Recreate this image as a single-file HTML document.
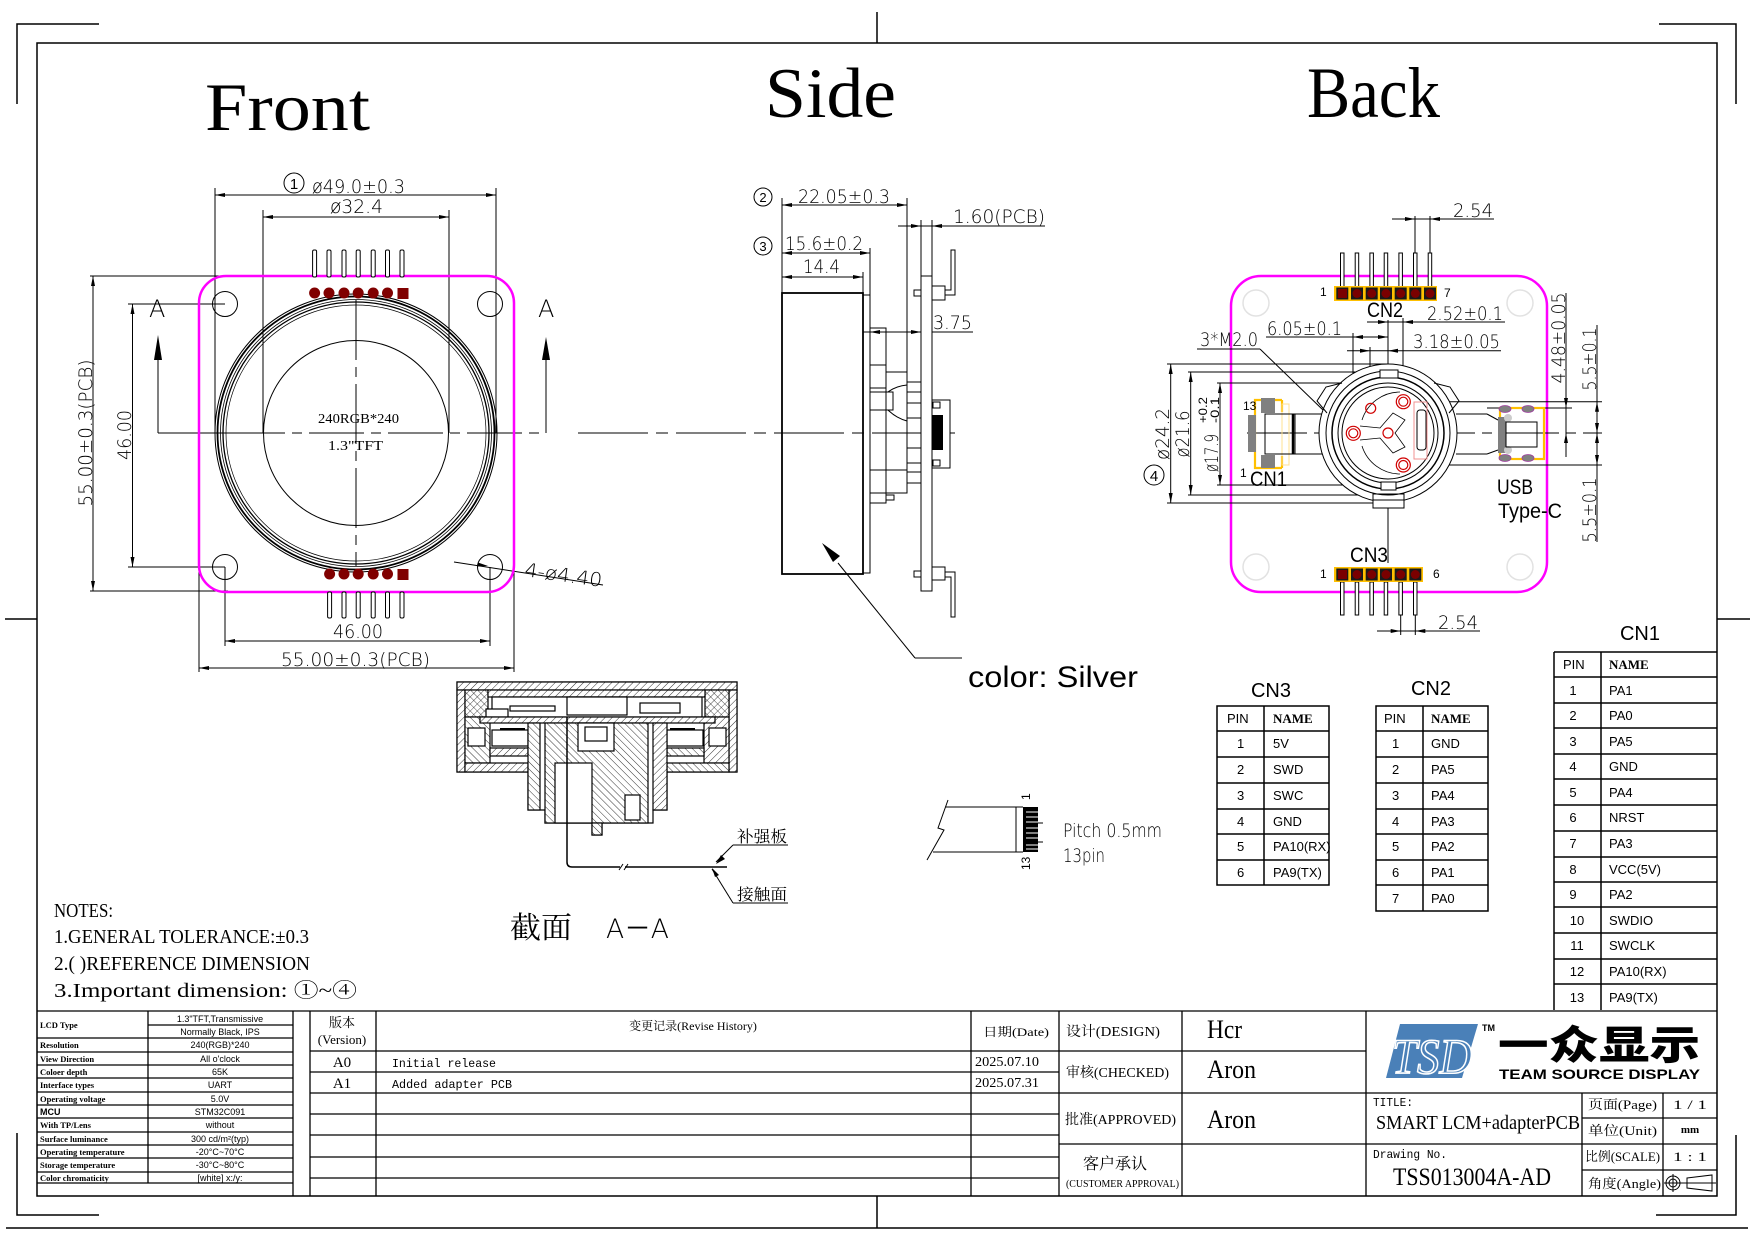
<!DOCTYPE html>
<html><head><meta charset="utf-8"><style>
html,body{margin:0;padding:0;background:#fff;}
svg{display:block}
text{font-family:"Liberation Sans","Noto Sans CJK SC",sans-serif;fill:#000}
.s{font-family:"Liberation Serif","Noto Serif CJK SC",serif}
.m{font-family:"Liberation Mono","Noto Serif CJK SC",monospace}
.d{font-size:19px;font-family:"DejaVu Sans","Liberation Sans",sans-serif;font-weight:200}
.t{font-size:13px}
.sp{font-family:"Liberation Serif",serif;font-size:8.5px;font-weight:bold}
.sv{font-size:9px}
</style></head><body>
<svg width="1754" height="1240" viewBox="0 0 1754 1240" xmlns="http://www.w3.org/2000/svg">
<defs>
<pattern id="hp" patternUnits="userSpaceOnUse" width="5" height="5" patternTransform="rotate(45)"><rect width="5" height="5" fill="#fff"/><line x1="0" y1="0" x2="0" y2="5" stroke="#000" stroke-width="0.8"/></pattern>
<pattern id="hn" patternUnits="userSpaceOnUse" width="5" height="5" patternTransform="rotate(-45)"><rect width="5" height="5" fill="#fff"/><line x1="0" y1="0" x2="0" y2="5" stroke="#000" stroke-width="0.8"/></pattern>
<pattern id="hx" patternUnits="userSpaceOnUse" width="5" height="5" patternTransform="rotate(45)"><rect width="5" height="5" fill="#fff"/><line x1="0" y1="0" x2="0" y2="5" stroke="#000" stroke-width="0.7"/><line x1="0" y1="0" x2="5" y2="0" stroke="#000" stroke-width="0.7"/></pattern>
</defs>
<rect width="1754" height="1240" fill="#fff"/>

<!-- FRAME -->
<g fill="none" stroke="#000" stroke-width="1.5">
<rect x="37" y="43" width="1680" height="1153"/>
<polyline points="17,104 17,24 99,24"/>
<polyline points="17,1133 17,1215 99,1215"/>
<polyline points="1659,24 1736,24 1736,104"/>
<polyline points="1656,1215 1736,1215 1736,1135"/>
<line x1="877" y1="12" x2="877" y2="43"/>
<line x1="877" y1="1196" x2="877" y2="1228"/>
<line x1="5" y1="619" x2="37" y2="619"/>
<line x1="1717" y1="619" x2="1750" y2="619"/>
<line x1="6" y1="1228" x2="1748" y2="1228"/>
</g>

<!-- TITLES -->
<text class="s" x="205" y="130" font-size="68" textLength="165" lengthAdjust="spacingAndGlyphs">Front</text>
<text class="s" x="765" y="117" font-size="71" textLength="131" lengthAdjust="spacingAndGlyphs">Side</text>
<text class="s" x="1307" y="117" font-size="72" textLength="133" lengthAdjust="spacingAndGlyphs">Back</text>

<!-- ================= FRONT ================= -->
<g fill="none" stroke="#000" stroke-width="1">
<line x1="215" y1="188" x2="215" y2="433"/>
<line x1="496" y1="188" x2="496" y2="433"/>
<line x1="215" y1="195" x2="496" y2="195"/>
<line x1="263" y1="210" x2="263" y2="433"/>
<line x1="449" y1="210" x2="449" y2="433"/>
<line x1="263" y1="217" x2="449" y2="217"/>
<line x1="90" y1="276" x2="228" y2="276"/>
<line x1="90" y1="591" x2="228" y2="591"/>
<line x1="93" y1="276" x2="93" y2="591"/>
<line x1="128" y1="304" x2="225" y2="304"/>
<line x1="128" y1="567" x2="225" y2="567"/>
<line x1="132.5" y1="304" x2="132.5" y2="567"/>
<line x1="225" y1="567" x2="225" y2="646"/>
<line x1="490" y1="567" x2="490" y2="646"/>
<line x1="225" y1="641" x2="490" y2="641"/>
<line x1="199" y1="545" x2="199" y2="672"/>
<line x1="514" y1="545" x2="514" y2="672"/>
<line x1="199" y1="668" x2="514" y2="668"/>
<line x1="158" y1="355" x2="158" y2="433"/>
<line x1="546" y1="355" x2="546" y2="433"/>
<line x1="158" y1="433" x2="230" y2="433"/>
<line x1="230" y1="433" x2="546" y2="433" stroke-dasharray="55 7 10 7"/>
<line x1="578" y1="433" x2="955" y2="433" stroke-dasharray="70 8 12 8"/>
<line x1="356" y1="300" x2="356" y2="566" stroke-dasharray="60 7 10 7"/>
<ellipse cx="356" cy="433" rx="141" ry="139" stroke-width="1"/>
<ellipse cx="356" cy="433" rx="138.5" ry="136.5" stroke-width="1.8"/>
<ellipse cx="356" cy="433" rx="135.5" ry="133.5" stroke-width="0.8"/>
<ellipse cx="356" cy="433" rx="133" ry="131" stroke-width="1.3"/>
<ellipse cx="356" cy="433" rx="130" ry="128" stroke-width="0.7"/>
<circle cx="356" cy="433" r="92.5"/>
<circle cx="225" cy="304" r="12.5"/>
<circle cx="490" cy="304" r="12.5"/>
<circle cx="225" cy="567" r="12.5"/>
<circle cx="490" cy="567" r="12.5"/>
<line x1="454" y1="562" x2="603" y2="585"/>
</g>
<rect x="199" y="276" width="315" height="316" rx="27" fill="none" stroke="#ff00ff" stroke-width="2.5"/>
<g fill="#fff" stroke="#000" stroke-width="1">
<rect x="312.6" y="250" width="4" height="27" rx="1.5"/><rect x="327" y="250" width="4" height="27" rx="1.5"/><rect x="342" y="250" width="4" height="27" rx="1.5"/><rect x="356.2" y="250" width="4" height="27" rx="1.5"/><rect x="371.2" y="250" width="4" height="27" rx="1.5"/><rect x="385.5" y="250" width="4" height="27" rx="1.5"/><rect x="400" y="250" width="4" height="27" rx="1.5"/>
<rect x="327.6" y="592" width="4" height="26" rx="1.5"/><rect x="342" y="592" width="4" height="26" rx="1.5"/><rect x="356.2" y="592" width="4" height="26" rx="1.5"/><rect x="371.2" y="592" width="4" height="26" rx="1.5"/><rect x="385.5" y="592" width="4" height="26" rx="1.5"/><rect x="400" y="592" width="4" height="26" rx="1.5"/>
</g>
<g fill="#800000">
<circle cx="314.6" cy="293" r="5.5"/><circle cx="329" cy="293" r="5.5"/><circle cx="344" cy="293" r="5.5"/><circle cx="358.2" cy="293" r="5.5"/><circle cx="373.2" cy="293" r="5.5"/><circle cx="387.5" cy="293" r="5.5"/><rect x="397.5" y="288" width="11" height="11"/>
<circle cx="329.6" cy="574" r="5.5"/><circle cx="344" cy="574" r="5.5"/><circle cx="358.2" cy="574" r="5.5"/><circle cx="373.2" cy="574" r="5.5"/><circle cx="387.5" cy="574" r="5.5"/><rect x="397.5" y="569" width="11" height="11"/>
</g>
<g fill="#000">
<polygon points="215,195 225,193 225,197"/><polygon points="496,195 486,193 486,197"/>
<polygon points="263,217 273,215 273,219"/><polygon points="449,217 439,215 439,219"/>
<polygon points="93,276 91,286 95,286"/><polygon points="93,591 91,581 95,581"/>
<polygon points="132.5,304 130.5,314 134.5,314"/><polygon points="132.5,567 130.5,557 134.5,557"/>
<polygon points="225,641 235,639 235,643"/><polygon points="490,641 480,639 480,643"/>
<polygon points="199,668 209,666 209,670"/><polygon points="514,668 504,666 504,670"/>
<polygon points="488,566 478,562.5 477.5,566.5"/>
<polygon points="158,335 154,360 162,360"/><polygon points="546,337 542,360 550,360"/>
</g>
<circle cx="294" cy="183" r="10" fill="none" stroke="#000" stroke-width="1"/>
<text x="294" y="189" font-size="15" text-anchor="middle">1</text>
<text class="d" x="312" y="193" textLength="93" lengthAdjust="spacingAndGlyphs">ø49.0±0.3</text>
<text class="d" x="330" y="213" textLength="53" lengthAdjust="spacingAndGlyphs">ø32.4</text>
<text class="d" transform="translate(92,433) rotate(-90)" text-anchor="middle" textLength="147" lengthAdjust="spacingAndGlyphs">55.00±0.3(PCB)</text>
<text class="d" transform="translate(131,435) rotate(-90)" text-anchor="middle" textLength="50" lengthAdjust="spacingAndGlyphs">46.00</text>
<text class="d" x="333" y="638" textLength="50" lengthAdjust="spacingAndGlyphs">46.00</text>
<text class="d" x="281" y="666" textLength="149" lengthAdjust="spacingAndGlyphs">55.00±0.3(PCB)</text>
<text class="d" transform="translate(524,576) rotate(8)" textLength="78" lengthAdjust="spacingAndGlyphs">4-ø4.40</text>
<text x="149" y="317" font-size="24" style="font-weight:200;font-family:'DejaVu Sans',sans-serif">A</text>
<text x="538" y="317" font-size="24" style="font-weight:200;font-family:'DejaVu Sans',sans-serif">A</text>
<text class="s" x="318" y="423" font-size="14" textLength="81" lengthAdjust="spacingAndGlyphs">240RGB*240</text>
<text class="s" x="328" y="450" font-size="14" textLength="55" lengthAdjust="spacingAndGlyphs">1.3"TFT</text>

<!-- ================= SIDE ================= -->
<g fill="none" stroke="#000" stroke-width="1">
<line x1="782" y1="198" x2="782" y2="293"/>
<line x1="907" y1="198" x2="907" y2="372"/>
<line x1="782" y1="205" x2="907" y2="205"/>
<line x1="870" y1="248" x2="870" y2="295"/>
<line x1="782" y1="253" x2="870" y2="253"/>
<line x1="863" y1="272" x2="863" y2="293"/>
<line x1="782" y1="277" x2="863" y2="277"/>
<line x1="921" y1="220" x2="921" y2="276"/>
<line x1="932" y1="220" x2="932" y2="276"/>
<line x1="898" y1="226" x2="1045" y2="226"/>
<line x1="863" y1="332" x2="973" y2="332"/>
<rect x="782" y="293" width="81" height="281" stroke-width="1.8"/>
<rect x="863" y="295" width="7" height="278"/>
<rect x="870" y="328" width="16" height="37"/>
<rect x="870" y="365" width="16" height="23"/>
<rect x="870" y="392" width="23" height="18"/>
<rect x="870" y="410" width="16" height="60"/>
<rect x="886" y="372" width="21" height="98"/>
<rect x="886" y="470" width="21" height="23"/>
<rect x="870" y="493" width="16" height="10"/>
<rect x="886" y="495" width="8" height="5"/>
<path d="M888,392 Q896,386 907,385 M888,410 Q896,418 907,421"/>
<rect x="907" y="382" width="15" height="101"/>
<path d="M907,392H922M907,403H922M907,418H922M907,433H922M907,448H922M907,463H922M907,472H922"/>
<rect x="921" y="276" width="11" height="315" fill="#fff"/>
<rect x="932" y="400" width="18" height="68"/>
<rect x="933" y="402" width="7" height="6"/><rect x="933" y="460" width="7" height="6"/>
<rect x="932" y="286" width="13" height="14"/>
<rect x="914" y="290" width="7" height="6"/>
<path d="M945,290 H951 V250 H955 V295 H945"/>
<rect x="932" y="567" width="13" height="13"/>
<rect x="914" y="571" width="7" height="6"/>
<path d="M945,572 H955 V617 H951 V577 H945"/>
<line x1="838" y1="563" x2="915" y2="658"/>
<line x1="915" y1="658" x2="962" y2="658"/>
</g>
<rect x="932" y="415" width="11" height="35" fill="#000"/>
<g fill="#000">
<polygon points="782,205 792,203 792,207"/><polygon points="907,205 897,203 897,207"/>
<polygon points="782,253 792,251 792,255"/><polygon points="870,253 860,251 860,255"/>
<polygon points="782,277 792,275 792,279"/><polygon points="863,277 853,275 853,279"/>
<polygon points="921,226 911,224 911,228"/><polygon points="932,226 942,224 942,228"/>
<polygon points="870,332 880,330 880,334"/><polygon points="921,332 911,330 911,334"/>
<polygon points="822,543 840,556 833,562"/>
</g>
<circle cx="763" cy="197" r="9" fill="none" stroke="#000"/>
<text x="763" y="202" font-size="13" text-anchor="middle">2</text>
<circle cx="763" cy="246" r="9" fill="none" stroke="#000"/>
<text x="763" y="251" font-size="13" text-anchor="middle">3</text>
<text class="d" x="798" y="203" textLength="92" lengthAdjust="spacingAndGlyphs">22.05±0.3</text>
<text class="d" x="785" y="250" textLength="78" lengthAdjust="spacingAndGlyphs">15.6±0.2</text>
<text class="d" x="803" y="273" textLength="37" lengthAdjust="spacingAndGlyphs">14.4</text>
<text class="d" x="953" y="223" textLength="92" lengthAdjust="spacingAndGlyphs">1.60(PCB)</text>
<text class="d" x="933" y="329" textLength="39" lengthAdjust="spacingAndGlyphs">3.75</text>
<text x="968" y="687" font-size="30" textLength="170" lengthAdjust="spacingAndGlyphs">color: Silver</text>

<!-- ================= SECTION A-A ================= -->
<g stroke="#000" stroke-width="1.2">
<path fill="#fff" d="M457,682 H737 V772 H667 V810 H653 V823 H602 V835 H592 V823 H545 V810 H528 V772 H457 Z"/>
<rect fill="url(#hp)" x="457" y="682" width="280" height="8"/>
<rect fill="url(#hp)" x="457" y="690" width="8" height="82"/>
<rect fill="url(#hp)" x="729" y="690" width="8" height="82"/>
<rect fill="url(#hx)" x="465" y="690" width="23" height="27"/>
<rect fill="url(#hx)" x="705" y="690" width="24" height="27"/>
<rect fill="url(#hn)" x="465" y="717" width="25" height="46"/>
<rect fill="#fff" x="468" y="728" width="17" height="18"/>
<rect fill="url(#hp)" x="704" y="717" width="25" height="46"/>
<rect fill="#fff" x="709" y="728" width="17" height="18"/>
<rect fill="url(#hp)" x="465" y="763" width="63" height="9"/>
<rect fill="url(#hn)" x="667" y="763" width="62" height="9"/>
<rect fill="url(#hp)" x="488" y="690" width="217" height="7"/>
<rect fill="#fff" x="492" y="697" width="210" height="20"/>
<rect fill="#fff" x="567" y="697" width="60" height="18"/>
<rect fill="#fff" x="510" y="706" width="45" height="5"/>
<rect fill="#fff" x="640" y="703" width="40" height="10"/>
<rect fill="#fff" x="486" y="709" width="22" height="8"/>
<rect fill="url(#hp)" x="480" y="717" width="235" height="6"/>
<rect fill="#fff" x="492" y="730" width="36" height="16"/>
<rect fill="#fff" x="667" y="730" width="36" height="16"/>
<line x1="500" y1="729" x2="525" y2="729" stroke-width="2"/>
<line x1="670" y1="729" x2="695" y2="729" stroke-width="2"/>
<rect fill="url(#hp)" x="490" y="748" width="38" height="8"/>
<rect fill="url(#hn)" x="667" y="748" width="37" height="8"/>
<rect fill="url(#hn)" x="528" y="723" width="12" height="87"/>
<rect fill="url(#hp)" x="653" y="723" width="14" height="87"/>
<rect fill="url(#hn)" x="545" y="723" width="103" height="100"/>
<rect fill="#fff" x="555" y="763" width="37" height="60"/>
<rect fill="#fff" x="578" y="723" width="36" height="28"/>
<rect fill="#fff" x="585" y="727" width="22" height="14"/>
<rect fill="#fff" x="625" y="795" width="15" height="25"/>
<rect fill="url(#hn)" x="592" y="823" width="10" height="12"/>
</g>
<g fill="none" stroke="#000">
<path d="M567,717 V862 Q567,867 572,867 H620 M625,867 H727" stroke-width="1.5"/>
<path d="M619,870 L623,864 M624,870 L628,864" stroke-width="1"/>
<line x1="733" y1="845" x2="788" y2="845"/>
<line x1="733" y1="845" x2="716" y2="862"/>
<line x1="733" y1="903" x2="788" y2="903"/>
<line x1="733" y1="903" x2="712" y2="869"/>
</g>
<polygon points="716,864 721,855 725,859" fill="#000"/>
<polygon points="712,868 719,875 715,877" fill="#000"/>
<text class="s" x="737" y="842" font-size="16" textLength="50" lengthAdjust="spacingAndGlyphs">补强板</text>
<text class="s" x="737" y="900" font-size="16" textLength="50" lengthAdjust="spacingAndGlyphs">接触面</text>
<text class="s" x="510" y="938" font-size="30" textLength="62" lengthAdjust="spacingAndGlyphs">截面</text>
<text x="606" y="938" font-size="27" textLength="63" lengthAdjust="spacingAndGlyphs" style="font-weight:200;font-family:'DejaVu Sans',sans-serif">A－A</text>

<!-- NOTES -->
<text class="s" x="54" y="917" font-size="20" textLength="59" lengthAdjust="spacingAndGlyphs">NOTES:</text>
<text class="s" x="54" y="943" font-size="20" textLength="255" lengthAdjust="spacingAndGlyphs">1.GENERAL TOLERANCE:±0.3</text>
<text class="s" x="54" y="970" font-size="20" textLength="256" lengthAdjust="spacingAndGlyphs">2.(  )REFERENCE DIMENSION</text>
<text class="s" x="54" y="997" font-size="20" textLength="303" lengthAdjust="spacingAndGlyphs">3.Important dimension: ①~④</text>

<!-- FPC -->
<g fill="none" stroke="#000" stroke-width="1">
<path d="M948,800 L938,828 L944,830 L927,860"/>
<line x1="945" y1="807" x2="1023" y2="807"/>
<line x1="933" y1="852" x2="1023" y2="852"/>
<line x1="1016" y1="807" x2="1016" y2="852"/>
<line x1="1038" y1="823" x2="1043" y2="823"/>
<line x1="1038" y1="842" x2="1043" y2="842"/>
</g>
<rect x="1023" y="807" width="15" height="45" fill="#000"/>
<g stroke="#fff" stroke-width="1">
<path d="M1026,812H1038M1026,817H1038M1026,822H1038M1026,828H1038M1026,833H1038M1026,838H1038M1026,845H1038M1026,849H1038"/>
</g>
<text transform="translate(1030,800) rotate(-90)" font-size="12">1</text>
<text transform="translate(1030,870) rotate(-90)" font-size="12">13</text>
<text class="d" x="1063" y="837" font-size="18" textLength="99" lengthAdjust="spacingAndGlyphs">Pitch 0.5mm</text>
<text class="d" x="1063" y="862" font-size="18" textLength="42" lengthAdjust="spacingAndGlyphs">13pin</text>

<!-- ================= BACK ================= -->
<g fill="none" stroke="#e2e2e2" stroke-width="1.5">
<circle cx="1256" cy="303" r="13"/><circle cx="1520" cy="303" r="13"/>
<circle cx="1256" cy="567" r="13"/><circle cx="1520" cy="567" r="13"/>
</g>
<rect x="1231" y="276" width="316" height="316" rx="30" fill="none" stroke="#ff00ff" stroke-width="2.5"/>
<g fill="none" stroke="#000" stroke-width="1">
<line x1="1392" y1="219" x2="1494" y2="219"/>
<line x1="1415" y1="216" x2="1415" y2="253"/>
<line x1="1430" y1="216" x2="1430" y2="253"/>
<line x1="1377" y1="631" x2="1480" y2="631"/>
<line x1="1400.7" y1="615" x2="1400.7" y2="635"/>
<line x1="1415.3" y1="615" x2="1415.3" y2="635"/>
<line x1="1197" y1="349" x2="1260" y2="349"/>
<line x1="1260" y1="349" x2="1323" y2="410"/>
<line x1="1266" y1="337" x2="1388" y2="337"/>
<line x1="1367" y1="322" x2="1505" y2="322"/>
<line x1="1347" y1="350.7" x2="1501" y2="350.7"/>
<line x1="1353" y1="333" x2="1353" y2="433"/>
<line x1="1403" y1="318" x2="1403" y2="402"/>
<line x1="1370" y1="347" x2="1370" y2="408"/>
<line x1="1388" y1="320" x2="1388" y2="563" stroke-dasharray="130 8 12 8"/>
<line x1="1247" y1="433" x2="1602" y2="433" stroke-dasharray="60 7 10 7"/>
<line x1="1170.7" y1="364" x2="1170.7" y2="503"/>
<line x1="1167" y1="364" x2="1388" y2="364"/>
<line x1="1167" y1="503" x2="1388" y2="503"/>
<line x1="1190.7" y1="372" x2="1190.7" y2="495"/>
<line x1="1188" y1="372" x2="1400" y2="372"/>
<line x1="1188" y1="495" x2="1388" y2="495"/>
<line x1="1220" y1="383" x2="1220" y2="485"/>
<line x1="1217" y1="383" x2="1370" y2="383"/>
<line x1="1217" y1="485" x2="1388" y2="485"/>
<line x1="1566" y1="293" x2="1566" y2="457"/>
<line x1="1597" y1="325" x2="1597" y2="542"/>
<line x1="1403" y1="401.7" x2="1602" y2="401.7"/>
<line x1="1487" y1="408" x2="1572" y2="408"/>
<line x1="1403" y1="465" x2="1602" y2="465"/>
<line x1="1295" y1="414" x2="1322" y2="414"/>
<line x1="1295" y1="454" x2="1322" y2="454"/>
<line x1="1456" y1="414" x2="1487" y2="414"/>
<line x1="1456" y1="454" x2="1487" y2="454"/>
<line x1="1487" y1="414" x2="1498" y2="420"/>
<line x1="1487" y1="454" x2="1498" y2="450"/>
<circle cx="1388" cy="433" r="69" fill="#fff"/>
<path d="M1327,413 L1317,401 L1326,387 L1342,383"/>
<path d="M1449,413 L1459,401 L1450,387 L1434,383"/>
<rect x="1373" y="494" width="31" height="14" fill="#fff"/>
<line x1="1373" y1="500" x2="1404" y2="500"/>
<circle cx="1388" cy="433" r="62"/>
<circle cx="1388" cy="433" r="56" stroke-width="1.5"/>
<circle cx="1388" cy="433" r="50"/>
<circle cx="1388" cy="433" r="46"/>
<rect x="1380" y="370" width="18" height="8" fill="#fff"/>
<rect x="1381" y="482" width="15" height="8" fill="#fff"/>
<path d="M1360,426 L1380,428 L1393,413 L1405,420 L1395,433 L1405,447 L1393,453 L1380,438 L1360,440" stroke-width="0.8"/>
<path d="M1362,420 A40,40 0 0 1 1400,392" stroke-width="0.8"/>
<path d="M1362,446 A40,40 0 0 0 1400,474" stroke-width="0.8"/>
<rect x="1417" y="410" width="9" height="40" rx="3"/>
</g>
<rect x="1414" y="402" width="13" height="57" fill="none" stroke="#f09090" stroke-width="1"/>
<g fill="none" stroke="#d00000" stroke-width="1.2">
<circle cx="1353.3" cy="433.3" r="7"/><circle cx="1353.3" cy="433.3" r="4.5"/>
<circle cx="1403.3" cy="401.7" r="7"/><circle cx="1403.3" cy="401.7" r="4.5"/>
<circle cx="1403.3" cy="465" r="7"/><circle cx="1403.3" cy="465" r="4.5"/>
<circle cx="1370.7" cy="408.3" r="5"/>
<circle cx="1388" cy="433" r="5"/>
</g>
<path d="M1282,400 H1255 V468 H1282 M1282,400 V412 M1282,456 V468" fill="none" stroke="#ffc000" stroke-width="2.2"/>
<rect x="1282" y="404" width="7" height="61" fill="none" stroke="#ffe090" stroke-width="1"/>
<rect x="1261" y="398" width="14" height="15" fill="#808080"/>
<rect x="1261" y="455" width="14" height="13" fill="#808080"/>
<rect x="1248" y="415" width="8" height="37" fill="#808080"/>
<rect x="1265" y="414" width="30" height="40" fill="none" stroke="#000"/>
<line x1="1293" y1="414" x2="1293" y2="454" stroke="#000" stroke-width="2.5"/>
<rect x="1500" y="408" width="44" height="51" fill="none" stroke="#ffc000" stroke-width="2.2"/>
<rect x="1498" y="417" width="8" height="36" fill="#808080"/>
<circle cx="1508" cy="418" r="4" fill="#ccc"/><circle cx="1508" cy="450" r="4" fill="#ccc"/>
<g fill="#808080" stroke="#a040a0" stroke-width="0.8">
<ellipse cx="1505" cy="409" rx="6" ry="3.5"/><ellipse cx="1528" cy="409" rx="6" ry="3.5"/>
<ellipse cx="1505" cy="458" rx="6" ry="3.5"/><ellipse cx="1528" cy="458" rx="6" ry="3.5"/>
</g>
<rect x="1506" y="422" width="31" height="25" fill="none" stroke="#000"/>
<g fill="#fff" stroke="#000" stroke-width="1">
<rect x="1340.5" y="253" width="3.5" height="34"/><rect x="1355.2" y="253" width="3.5" height="34"/><rect x="1369.9" y="253" width="3.5" height="34"/><rect x="1384.2" y="253" width="3.5" height="34"/><rect x="1398.9" y="253" width="3.5" height="34"/><rect x="1413.5" y="253" width="3.5" height="34"/><rect x="1428.2" y="253" width="3.5" height="34"/>
<rect x="1340.5" y="582" width="3.5" height="33"/><rect x="1355.2" y="582" width="3.5" height="33"/><rect x="1369.9" y="582" width="3.5" height="33"/><rect x="1384.2" y="582" width="3.5" height="33"/><rect x="1398.9" y="582" width="3.5" height="33"/><rect x="1413.5" y="582" width="3.5" height="33"/>
</g>
<rect x="1334" y="286" width="103" height="15" fill="#ffc000"/>
<rect x="1334" y="567" width="89" height="15" fill="#ffc000"/>
<g fill="#1a1a1a">
<rect x="1336.3" y="287.5" width="12" height="12"/><rect x="1351" y="287.5" width="12" height="12"/><rect x="1365.7" y="287.5" width="12" height="12"/><rect x="1380" y="287.5" width="12" height="12"/><rect x="1394.7" y="287.5" width="12" height="12"/><rect x="1409.3" y="287.5" width="12" height="12"/><rect x="1424" y="287.5" width="12" height="12"/>
<rect x="1336.3" y="568.5" width="12" height="12"/><rect x="1351" y="568.5" width="12" height="12"/><rect x="1365.7" y="568.5" width="12" height="12"/><rect x="1380" y="568.5" width="12" height="12"/><rect x="1394.7" y="568.5" width="12" height="12"/><rect x="1409.3" y="568.5" width="12" height="12"/>
</g>
<g fill="#7a0000">
<rect x="1338" y="289" width="9" height="9"/><circle cx="1357" cy="293.5" r="4.5"/><circle cx="1371.7" cy="293.5" r="4.5"/><circle cx="1386" cy="293.5" r="4.5"/><circle cx="1400.7" cy="293.5" r="4.5"/><circle cx="1415.3" cy="293.5" r="4.5"/><circle cx="1430" cy="293.5" r="4.5"/>
<rect x="1338" y="570" width="9" height="9"/><circle cx="1357" cy="574.5" r="4.5"/><circle cx="1371.7" cy="574.5" r="4.5"/><circle cx="1386" cy="574.5" r="4.5"/><circle cx="1400.7" cy="574.5" r="4.5"/><circle cx="1415.3" cy="574.5" r="4.5"/>
</g>
<g fill="#000">
<polygon points="1415,219 1405,217 1405,221"/><polygon points="1430,219 1440,217 1440,221"/>
<polygon points="1400.7,631 1390.7,629 1390.7,633"/><polygon points="1415.3,631 1425.3,629 1425.3,633"/>
<polygon points="1353,337 1363,335 1363,339"/><polygon points="1388,337 1378,335 1378,339"/>
<polygon points="1388,322 1378,320 1378,324"/><polygon points="1403,322 1413,320 1413,324"/>
<polygon points="1370,350.7 1360,348.7 1360,352.7"/><polygon points="1388,350.7 1398,348.7 1398,352.7"/>
<polygon points="1170.7,364 1168.7,374 1172.7,374"/><polygon points="1170.7,503 1168.7,493 1172.7,493"/>
<polygon points="1190.7,372 1188.7,382 1192.7,382"/><polygon points="1190.7,495 1188.7,485 1192.7,485"/>
<polygon points="1220,383 1218,393 1222,393"/><polygon points="1220,485 1218,475 1222,475"/>
<polygon points="1566,408 1564,398 1568,398"/><polygon points="1566,433 1564,443 1568,443"/>
<polygon points="1597,401.7 1595,411.7 1599,411.7"/><polygon points="1597,433 1595,423 1599,423"/>
<polygon points="1597,433 1595,443 1599,443"/><polygon points="1597,465 1595,455 1599,455"/>
</g>
<text x="1320" y="296" font-size="12">1</text>
<text x="1444" y="297" font-size="12">7</text>
<text x="1320" y="578" font-size="12">1</text>
<text x="1433" y="578" font-size="12">6</text>
<text x="1243" y="410" font-size="12">13</text>
<text x="1240" y="477" font-size="12">1</text>
<text x="1367" y="317" font-size="21" textLength="36" lengthAdjust="spacingAndGlyphs">CN2</text>
<text x="1350" y="562" font-size="21" textLength="38" lengthAdjust="spacingAndGlyphs">CN3</text>
<text x="1250" y="486" font-size="21" textLength="37" lengthAdjust="spacingAndGlyphs">CN1</text>
<text x="1497" y="494" font-size="21" textLength="36" lengthAdjust="spacingAndGlyphs">USB</text>
<text x="1498" y="518" font-size="21" textLength="64" lengthAdjust="spacingAndGlyphs">Type-C</text>
<text class="d" x="1453" y="217" textLength="40" lengthAdjust="spacingAndGlyphs">2.54</text>
<text class="d" x="1438" y="629" textLength="40" lengthAdjust="spacingAndGlyphs">2.54</text>
<text class="d" x="1200" y="346" textLength="58" lengthAdjust="spacingAndGlyphs">3*M2.0</text>
<text class="d" x="1267" y="335" textLength="75" lengthAdjust="spacingAndGlyphs">6.05±0.1</text>
<text class="d" x="1427" y="320" textLength="76" lengthAdjust="spacingAndGlyphs">2.52±0.1</text>
<text class="d" x="1413" y="348" textLength="87" lengthAdjust="spacingAndGlyphs">3.18±0.05</text>
<text class="d" transform="translate(1169,434) rotate(-90)" text-anchor="middle" textLength="52" lengthAdjust="spacingAndGlyphs">ø24.2</text>
<text class="d" transform="translate(1189,434) rotate(-90)" text-anchor="middle" textLength="47" lengthAdjust="spacingAndGlyphs">ø21.6</text>
<text class="d" transform="translate(1218,472) rotate(-90)" textLength="38" lengthAdjust="spacingAndGlyphs">ø17.9</text>
<text transform="translate(1207,423) rotate(-90)" font-size="12" textLength="26" lengthAdjust="spacingAndGlyphs">+0.2</text>
<text transform="translate(1219,423) rotate(-90)" font-size="12" textLength="26" lengthAdjust="spacingAndGlyphs">-0.1</text>
<text class="d" transform="translate(1565,338) rotate(-90)" text-anchor="middle" textLength="91" lengthAdjust="spacingAndGlyphs">4.48±0.05</text>
<text class="d" transform="translate(1596,359) rotate(-90)" text-anchor="middle" textLength="63" lengthAdjust="spacingAndGlyphs">5.5±0.1</text>
<text class="d" transform="translate(1596,510) rotate(-90)" text-anchor="middle" textLength="65" lengthAdjust="spacingAndGlyphs">5.5±0.1</text>
<circle cx="1154" cy="475" r="10" fill="none" stroke="#000"/>
<text x="1154" y="481" font-size="15" text-anchor="middle">4</text>

<!-- ================= PIN TABLES ================= -->
<g fill="none" stroke="#000" stroke-width="1.5">
<rect x="1217" y="706" width="112" height="179"/>
<line x1="1264" y1="706" x2="1264" y2="885"/>
<path d="M1217,731H1329M1217,757H1329M1217,783H1329M1217,809H1329M1217,834H1329M1217,860H1329"/>
<rect x="1376" y="706" width="112" height="205"/>
<line x1="1423" y1="706" x2="1423" y2="911"/>
<path d="M1376,731H1488M1376,757H1488M1376,783H1488M1376,809H1488M1376,834H1488M1376,860H1488M1376,885H1488"/>
<path d="M1554,652V1010M1601,652V1010M1554,652H1717M1554,677H1717M1554,703H1717M1554,728H1717M1554,754H1717M1554,779H1717M1554,805H1717M1554,831H1717M1554,857H1717M1554,882H1717M1554,907H1717M1554,933H1717M1554,959H1717M1554,984H1717"/>
</g>
<text x="1271" y="697" font-size="20" text-anchor="middle">CN3</text>
<text x="1431" y="695" font-size="20" text-anchor="middle">CN2</text>
<text x="1640" y="640" font-size="20" text-anchor="middle">CN1</text>
<g class="t" font-size="13">
<text x="1227" y="723">PIN</text><text class="s" x="1273" y="723" font-weight="bold" font-size="13">NAME</text>
<text x="1237" y="748">1</text><text x="1273" y="748">5V</text>
<text x="1237" y="774">2</text><text x="1273" y="774">SWD</text>
<text x="1237" y="800">3</text><text x="1273" y="800">SWC</text>
<text x="1237" y="826">4</text><text x="1273" y="826">GND</text>
<text x="1237" y="851">5</text><text x="1273" y="851">PA10(RX)</text>
<text x="1237" y="877">6</text><text x="1273" y="877">PA9(TX)</text>

<text x="1384" y="723">PIN</text><text class="s" x="1431" y="723" font-weight="bold" font-size="13">NAME</text>
<text x="1392" y="748">1</text><text x="1431" y="748">GND</text>
<text x="1392" y="774">2</text><text x="1431" y="774">PA5</text>
<text x="1392" y="800">3</text><text x="1431" y="800">PA4</text>
<text x="1392" y="826">4</text><text x="1431" y="826">PA3</text>
<text x="1392" y="851">5</text><text x="1431" y="851">PA2</text>
<text x="1392" y="877">6</text><text x="1431" y="877">PA1</text>
<text x="1392" y="903">7</text><text x="1431" y="903">PA0</text>

<text x="1563" y="669">PIN</text><text class="s" x="1609" y="669" font-weight="bold" font-size="13">NAME</text>
<text x="1573" y="695" text-anchor="middle">1</text><text x="1609" y="695">PA1</text>
<text x="1573" y="720" text-anchor="middle">2</text><text x="1609" y="720">PA0</text>
<text x="1573" y="746" text-anchor="middle">3</text><text x="1609" y="746">PA5</text>
<text x="1573" y="771" text-anchor="middle">4</text><text x="1609" y="771">GND</text>
<text x="1573" y="797" text-anchor="middle">5</text><text x="1609" y="797">PA4</text>
<text x="1573" y="822" text-anchor="middle">6</text><text x="1609" y="822">NRST</text>
<text x="1573" y="848" text-anchor="middle">7</text><text x="1609" y="848">PA3</text>
<text x="1573" y="874" text-anchor="middle">8</text><text x="1609" y="874">VCC(5V)</text>
<text x="1573" y="899" text-anchor="middle">9</text><text x="1609" y="899">PA2</text>
<text x="1577" y="925" text-anchor="middle">10</text><text x="1609" y="925">SWDIO</text>
<text x="1577" y="950" text-anchor="middle">11</text><text x="1609" y="950">SWCLK</text>
<text x="1577" y="976" text-anchor="middle">12</text><text x="1609" y="976">PA10(RX)</text>
<text x="1577" y="1002" text-anchor="middle">13</text><text x="1609" y="1002">PA9(TX)</text>
</g>

<!-- ================= TITLE BLOCK ================= -->
<g fill="none" stroke="#000" stroke-width="1.3">
<line x1="37" y1="1011" x2="1717" y2="1011"/>
<line x1="293" y1="1011" x2="293" y2="1196"/>
<line x1="148" y1="1011" x2="148" y2="1183"/>
<path d="M148,1025H293M37,1038H293M37,1052H293M37,1065H293M37,1078H293M37,1092H293M37,1105H293M37,1118H293M37,1132H293M37,1145H293M37,1158H293M37,1172H293M37,1183H293"/>
<path d="M310,1011V1196M376,1011V1196M971,1011V1196M1059,1011V1196M1182,1011V1196M1366,1011V1196"/>
<path d="M310,1051H1059M310,1072H1059M310,1093H1059M310,1114H1059M310,1135H1059M310,1157H1059M310,1178H1059"/>
<path d="M1059,1051H1366M1059,1093H1366M1059,1144H1366"/>
<path d="M1366,1093H1717M1366,1144H1717M1582,1093V1196M1663,1093V1196M1582,1118H1717M1582,1170H1717"/>
</g>
<g class="sp">
<text x="40" y="1028" class="sp">LCD Type</text>
<text x="40" y="1048" class="sp">Resolution</text>
<text x="40" y="1062" class="sp">View Direction</text>
<text x="40" y="1075" class="sp">Coloer depth</text>
<text x="40" y="1088" class="sp">Interface types</text>
<text x="40" y="1102" class="sp">Operating voltage</text>
<text x="40" y="1115" style="font-family:'Liberation Sans',sans-serif;font-size:9px">MCU</text>
<text x="40" y="1128" class="sp">With TP/Lens</text>
<text x="40" y="1142" class="sp">Surface luminance</text>
<text x="40" y="1155" class="sp">Operating temperature</text>
<text x="40" y="1168" class="sp">Storage temperature</text>
<text x="40" y="1181" class="sp">Color chromaticity</text>
</g>
<g class="sv" text-anchor="middle">
<text x="220" y="1022" class="sv">1.3"TFT,Transmissive</text>
<text x="220" y="1035" class="sv">Normally Black, IPS</text>
<text x="220" y="1048" class="sv">240(RGB)*240</text>
<text x="220" y="1062" class="sv">All o'clock</text>
<text x="220" y="1075" class="sv">65K</text>
<text x="220" y="1088" class="sv">UART</text>
<text x="220" y="1102" class="sv">5.0V</text>
<text x="220" y="1115" class="sv">STM32C091</text>
<text x="220" y="1128" class="sv">without</text>
<text x="220" y="1142" class="sv">300 cd/m²(typ)</text>
<text x="220" y="1155" class="sv">-20°C~70°C</text>
<text x="220" y="1168" class="sv">-30°C~80°C</text>
<text x="220" y="1181" class="sv">[white] x:/y:</text>
</g>
<text class="s" x="342" y="1027" font-size="13" text-anchor="middle">版本</text>
<text class="s" x="342" y="1044" font-size="13" text-anchor="middle">(Version)</text>
<text class="s" x="693" y="1030" font-size="12" text-anchor="middle">变更记录(Revise History)</text>
<text class="s" x="342" y="1067" font-size="15" text-anchor="middle">A0</text>
<text class="s" x="342" y="1088" font-size="15" text-anchor="middle">A1</text>
<text class="m" x="392" y="1067" font-size="12" textLength="104" lengthAdjust="spacingAndGlyphs">Initial release</text>
<text class="m" x="392" y="1088" font-size="12" textLength="120" lengthAdjust="spacingAndGlyphs">Added adapter PCB</text>
<text class="s" x="983" y="1036" font-size="12" textLength="66" lengthAdjust="spacingAndGlyphs">日期(Date)</text>
<text class="s" x="975" y="1066" font-size="14" textLength="64" lengthAdjust="spacingAndGlyphs">2025.07.10</text>
<text class="s" x="975" y="1087" font-size="14" textLength="64" lengthAdjust="spacingAndGlyphs">2025.07.31</text>
<text class="s" x="1066" y="1036" font-size="14" textLength="94" lengthAdjust="spacingAndGlyphs">设计(DESIGN)</text>
<text class="s" x="1066" y="1077" font-size="14" textLength="103" lengthAdjust="spacingAndGlyphs">审核(CHECKED)</text>
<text class="s" x="1065" y="1124" font-size="14" textLength="111" lengthAdjust="spacingAndGlyphs">批准(APPROVED)</text>
<text class="s" x="1083" y="1169" font-size="16" textLength="64" lengthAdjust="spacingAndGlyphs">客户承认</text>
<text class="s" x="1066" y="1187" font-size="10" textLength="113" lengthAdjust="spacingAndGlyphs">(CUSTOMER APPROVAL)</text>
<text class="s" x="1207" y="1038" font-size="26" textLength="35" lengthAdjust="spacingAndGlyphs">Hcr</text>
<text class="s" x="1207" y="1078" font-size="26" textLength="49" lengthAdjust="spacingAndGlyphs">Aron</text>
<text class="s" x="1207" y="1128" font-size="26" textLength="49" lengthAdjust="spacingAndGlyphs">Aron</text>
<polygon points="1400,1024 1478,1024 1462,1078 1386,1078" fill="#4a80b8"/>
<text x="1392" y="1073" font-size="50" font-style="italic" stroke="#fff" stroke-width="1.6" textLength="80" lengthAdjust="spacingAndGlyphs" style="fill:#4a80b8;font-family:'Liberation Serif',serif">TSD</text>
<text x="1482" y="1031" font-size="9" font-weight="bold">TM</text>
<text x="1498" y="1059" font-size="40" font-weight="900" textLength="202" lengthAdjust="spacingAndGlyphs" style="font-family:'Noto Sans CJK SC','WenQuanYi Zen Hei',sans-serif">一众显示</text>
<text x="1499" y="1079" font-size="14" font-weight="bold" textLength="201" lengthAdjust="spacingAndGlyphs">TEAM SOURCE DISPLAY</text>
<text class="m" x="1373" y="1106" font-size="12" textLength="40" lengthAdjust="spacingAndGlyphs">TITLE:</text>
<text class="s" x="1376" y="1129" font-size="20" textLength="204" lengthAdjust="spacingAndGlyphs">SMART LCM+adapterPCB</text>
<text class="m" x="1373" y="1158" font-size="12" textLength="74" lengthAdjust="spacingAndGlyphs">Drawing No.</text>
<text class="s" x="1393" y="1185" font-size="25" textLength="158" lengthAdjust="spacingAndGlyphs">TSS013004A-AD</text>
<text class="s" x="1588" y="1109" font-size="13" textLength="69" lengthAdjust="spacingAndGlyphs">页面(Page)</text>
<text class="s" x="1673" y="1109" font-size="13" textLength="34" lengthAdjust="spacingAndGlyphs">1 / 1</text>
<text class="s" x="1588" y="1135" font-size="13" textLength="69" lengthAdjust="spacingAndGlyphs">单位(Unit)</text>
<text class="s" x="1690" y="1133" font-size="11" text-anchor="middle" font-weight="bold">mm</text>
<text class="s" x="1585" y="1161" font-size="13" textLength="75" lengthAdjust="spacingAndGlyphs">比例(SCALE)</text>
<text class="s" x="1673" y="1161" font-size="13" textLength="34" lengthAdjust="spacingAndGlyphs">1 : 1</text>
<text class="s" x="1588" y="1188" font-size="13" textLength="73" lengthAdjust="spacingAndGlyphs">角度(Angle)</text>
<g fill="none" stroke="#000" stroke-width="1">
<circle cx="1673" cy="1183" r="7"/><circle cx="1673" cy="1183" r="4"/>
<line x1="1664" y1="1183" x2="1716" y2="1183"/><line x1="1673" y1="1174" x2="1673" y2="1192"/>
<polygon points="1687,1178 1712,1175 1712,1191 1687,1188"/>
</g>
</svg>
</body></html>
